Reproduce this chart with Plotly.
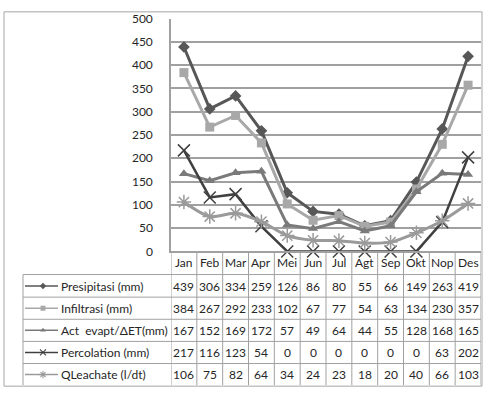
import plotly.graph_objects as go

W, H = 487, 397

months = ["Jan", "Feb", "Mar", "Apr", "Mei", "Jun", "Jul", "Agt", "Sep", "Okt", "Nop", "Des"]
presipitasi = [439, 306, 334, 259, 126, 86, 80, 55, 66, 149, 263, 419]
infiltrasi = [384, 267, 292, 233, 102, 67, 77, 54, 63, 134, 230, 357]
act_evapt = [167, 152, 169, 172, 57, 49, 64, 44, 55, 128, 168, 165]
percolation = [217, 116, 123, 54, 0, 0, 0, 0, 0, 0, 63, 202]
qleachate = [106, 75, 82, 64, 34, 24, 23, 18, 20, 40, 66, 103]
series_names = ["Presipitasi (mm)", "Infiltrasi (mm)", "Act  evapt/\u0394ET(mm)",
                "Percolation (mm)", "QLeachate (l/dt)"]
y_ticks = [0, 50, 100, 150, 200, 250, 300, 350, 400, 450, 500]

series = [presipitasi, infiltrasi, act_evapt, percolation, qleachate]
styles = [
    dict(color="#575757", width=3, symbol="diamond", size=9, mline=0, shape="linear", ls=5),
    dict(color="#a8a8a8", width=3, symbol="square", size=9, mline=0, shape="linear", ls=5),
    dict(color="#7a7a7a", width=3, symbol="triangle-up", size=9, mline=0, shape="linear", ls=5),
    dict(color="#404040", width=2.5, symbol="x-thin-open", size=12, mline=1.5, shape="linear", ls=6),
    dict(color="#9a9a9a", width=3, symbol="asterisk-open", size=12, mline=1.5, shape="spline", ls=6),
]

FONT = "Lato"
FS = 12
TXT = "#262626"
GRID = "#a0a0a0"


def px(x):
    return x / W


def py(y):
    return 1 - y / H


# plot area in pixels
L, R, T, B = 171, 481, 11, 253

fig = go.Figure()

for name, vals, st in zip(series_names, series, styles):
    fig.add_trace(go.Scatter(
        x=months, y=vals, name=name, mode="lines+markers",
        line=dict(color=st["color"], width=st["width"], shape=st["shape"], smoothing=0.8),
        marker=dict(symbol=st["symbol"], size=st["size"], color=st["color"],
                    line=dict(color=st["color"], width=st["mline"])),
        cliponaxis=False, showlegend=False, xaxis="x", yaxis="y",
    ))

# legend keys in the table (own pixel axes)
row_centers = [289, 312, 335, 358, 381]
for name, st, yc in zip(series_names, styles, row_centers):
    fig.add_trace(go.Scatter(
        x=[25, 58], y=[yc, yc], mode="lines", line=dict(color=st["color"], width=1.5),
        showlegend=False, xaxis="x2", yaxis="y2", hoverinfo="skip"))
    fig.add_trace(go.Scatter(
        x=[43], y=[yc], mode="markers",
        marker=dict(symbol=st["symbol"], size=st["ls"], color=st["color"],
                    line=dict(color=st["color"], width=st["mline"] * 0.7)),
        showlegend=False, xaxis="x2", yaxis="y2", hoverinfo="skip"))

shapes = []
# outer border
shapes.append(dict(type="rect", xref="paper", yref="paper", x0=px(4), x1=px(482),
                   y0=py(393), y1=py(4), line=dict(color="#a6a6a6", width=1)))
# table horizontal lines
row_lines = [277, 300.5, 323.5, 346.5, 369.5]
for yl in row_lines:
    shapes.append(dict(type="line", xref="paper", yref="paper", x0=px(23), x1=px(R),
                       y0=py(yl), y1=py(yl), line=dict(color=GRID, width=1)))
# legend column left edge
shapes.append(dict(type="line", xref="paper", yref="paper", x0=px(23), x1=px(23),
                   y0=py(277), y1=py(392), line=dict(color=GRID, width=1)))
# category boundaries
for i in range(len(months) + 1):
    shapes.append(dict(type="line", xref="x", yref="paper", x0=i - 0.5, x1=i - 0.5,
                       y0=py(B), y1=py(392), line=dict(color=GRID, width=1)))

annotations = []
for i, m in enumerate(months):
    annotations.append(dict(x=m, y=py(265), xref="x", yref="paper", text=m, showarrow=False,
                            xanchor="center", yanchor="middle",
                            font=dict(family=FONT, size=FS, color=TXT)))
for vals, yc in zip(series, row_centers):
    for m, v in zip(months, vals):
        annotations.append(dict(x=m, y=py(yc), xref="x", yref="paper", text=str(v),
                                xanchor="center", yanchor="middle",
                                showarrow=False, font=dict(family=FONT, size=FS, color=TXT)))
for name, yc in zip(series_names, row_centers):
    annotations.append(dict(x=px(59), y=py(yc), xref="paper", yref="paper", text=name,
                            xanchor="left", yanchor="middle", showarrow=False,
                            font=dict(family=FONT, size=FS, color=TXT)))

fig.update_layout(
    width=W, height=H, margin=dict(l=0, r=0, t=0, b=0),
    paper_bgcolor="white", plot_bgcolor="white",
    xaxis=dict(domain=[px(L), px(R)], type="category", range=[-0.5, 11.5],
               showticklabels=False, showgrid=False, zeroline=False,
               showline=True, linecolor=GRID, linewidth=1.5, ticks=""),
    yaxis=dict(domain=[py(B), py(T)], range=[0, 500], tickvals=y_ticks,
               showgrid=True, gridcolor=GRID, gridwidth=1.5, zeroline=False,
               showline=True, linecolor=GRID, linewidth=1.5, ticks="",
               ticklabelstandoff=14,
               tickfont=dict(family=FONT, size=FS, color=TXT)),
    xaxis2=dict(domain=[px(23), px(L)], range=[23, L], visible=False, fixedrange=True),
    yaxis2=dict(domain=[0, 1], range=[H, 0], visible=False, fixedrange=True, anchor="x2"),
    shapes=shapes, annotations=annotations, showlegend=False,
)

fig.write_html("out.html", config={"displayModeBar": False},
               post_script="document.body.style.margin='0';document.body.style.overflow='hidden';")
